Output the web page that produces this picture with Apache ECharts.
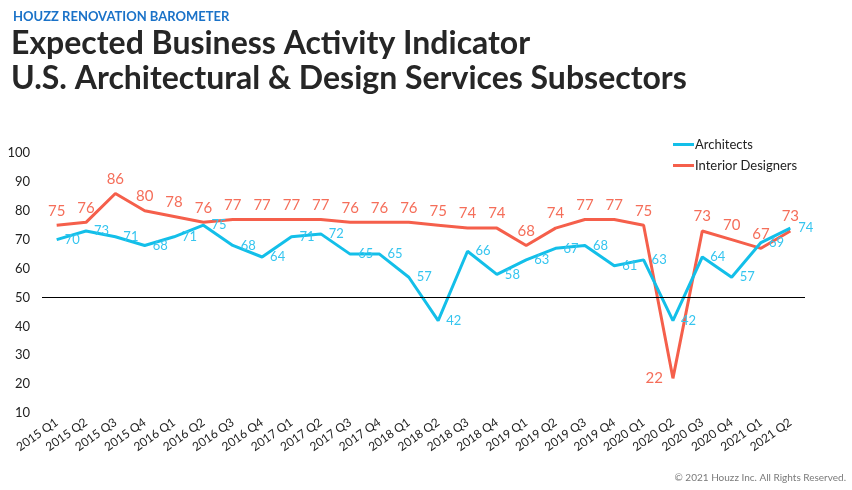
<!DOCTYPE html>
<html>
<head>
<meta charset="utf-8">
<script src="https://cdn.jsdelivr.net/npm/echarts@6/dist/echarts.min.js"></script>
<style>html,body{margin:0;padding:0;background:#fff;}#c{width:852px;height:490px;}</style>
</head>
<body>
<div id="c"></div>
<script>
const categories = ["2015 Q1","2015 Q2","2015 Q3","2015 Q4","2016 Q1","2016 Q2","2016 Q3","2016 Q4","2017 Q1","2017 Q2","2017 Q3","2017 Q4","2018 Q1","2018 Q2","2018 Q3","2018 Q4","2019 Q1","2019 Q2","2019 Q3","2019 Q4","2020 Q1","2020 Q2","2020 Q3","2020 Q4","2021 Q1","2021 Q2"];
const architects = [70,73,71,68,71,75,68,64,71,72,65,65,57,42,66,58,63,67,68,61,63,42,64,57,69,74];
const interiorDesigners = [75,76,86,80,78,76,77,77,77,77,76,76,76,75,74,74,68,74,77,77,75,22,73,70,67,73];
const referenceLevel = 50;
const yTicks = [10,20,30,40,50,60,70,80,90,100];

const FONT = "Lato, 'Open Sans', sans-serif";
const CYAN = "#13bfe9";
const CORAL = "#f55f4b";

const chart = echarts.init(document.getElementById('c'), null, {renderer: 'canvas'});

const interiorData = interiorDesigners.map((v, i) => {
  if (v === Math.min(...interiorDesigners)) {
    return {value: v, label: {position: 'left', distance: 10}};
  }
  return v;
});

chart.setOption({
  animation: false,
  textStyle: {fontFamily: FONT},
  title: [
    {text: "HOUZZ RENOVATION BAROMETER", left: 8, top: 5,
     textStyle: {fontFamily: FONT, fontSize: 13, fontWeight: 'bold', color: '#1a72c8'}},
    {text: "Expected Business Activity Indicator", left: 6, top: 23,
     textStyle: {fontFamily: FONT, fontSize: 32, fontWeight: 'bold', color: '#262626'}},
    {text: "U.S. Architectural & Design Services Subsectors", left: 6, top: 58,
     textStyle: {fontFamily: FONT, fontSize: 32, fontWeight: 'bold', color: '#262626'}},
    {text: "© 2021 Houzz Inc. All Rights Reserved.", right: 1, bottom: 2,
     textStyle: {fontFamily: FONT, fontSize: 10, fontWeight: 'normal', color: '#7a7a7a'}}
  ],
  legend: {
    orient: 'vertical', left: 668, top: 133, itemGap: 8,
    itemWidth: 21, itemHeight: 3,
    icon: 'rect',
    textStyle: {fontFamily: FONT, fontSize: 13, color: '#222', padding: [0,0,0,-4]},
    data: ['Architects', 'Interior Designers']
  },
  grid: {left: 42, right: 47, top: 153, bottom: 77, containLabel: false},
  xAxis: {
    type: 'category', data: categories, boundaryGap: true,
    axisLine: {show: false}, axisTick: {show: false},
    axisLabel: {rotate: 35, interval: 0, margin: 8, fontSize: 12, color: '#222', fontFamily: FONT}
  },
  yAxis: {
    type: 'value', min: yTicks[0], max: yTicks[yTicks.length-1], interval: 10,
    axisLine: {show: false}, axisTick: {show: false}, splitLine: {show: false},
    axisLabel: {fontSize: 13, color: '#222', margin: 12, fontFamily: FONT}
  },
  series: [
    {
      name: 'Architects', type: 'line', data: architects,
      symbol: 'circle', symbolSize: 0, showSymbol: true,
      lineStyle: {color: CYAN, width: 3}, itemStyle: {color: CYAN},
      label: {show: true, position: 'right', distance: 8, fontSize: 13, color: '#35c5ef', fontFamily: FONT},
      z: 3,
      markLine: {
        silent: true, symbol: 'none',
        lineStyle: {color: '#000', width: 1, type: 'solid'},
        label: {show: false},
        data: [{yAxis: referenceLevel}]
      }
    },
    {
      name: 'Interior Designers', type: 'line', data: interiorData,
      symbol: 'circle', symbolSize: 0, showSymbol: true,
      lineStyle: {color: CORAL, width: 3}, itemStyle: {color: CORAL},
      label: {show: true, position: 'top', distance: 7, fontSize: 15, color: '#f56e5a', fontFamily: FONT},
      z: 2
    }
  ]
});
</script>
</body>
</html>
